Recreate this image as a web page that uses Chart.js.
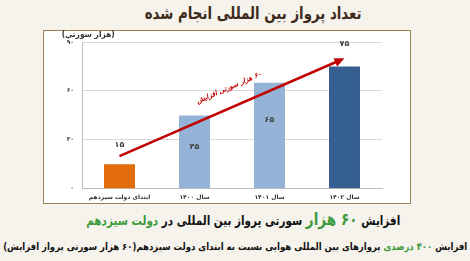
<!DOCTYPE html>
<html lang="fa">
<head>
<meta charset="utf-8">
<script src="https://cdn.jsdelivr.net/npm/chart.js@4.4.1/dist/chart.umd.min.js"></script>
<style>
  html, body { margin: 0; padding: 0; }
  body {
    width: 470px; height: 261px; overflow: hidden; position: relative;
    background: #f6f3ec; font-family: "DejaVu Sans", sans-serif;
  }
  .fit { position: absolute; white-space: nowrap; font-weight: bold; line-height: 1; }
  .title { font-size: 17px; color: #3e2b1c; }
  .frame {
    position: absolute; left: 43px; top: 30px; width: 366px; height: 172px;
    border: 1.5px solid #a0814f; background: #ffffff;
  }
  .chart-box { position: absolute; left: 44px; top: 30px; width: 368px; height: 179px; }
  .unit { font-size: 8px; color: #333; }
  .line1 { font-size: 13px; color: #111; }
  .line1 .big { font-size: 17px; color: #3d9a3d; }
  .line2 { font-size: 10px; color: #111; }
  .green { color: #3d9a3d; }
</style>
</head>
<body>
<div class="fit title" dir="rtl" data-cx="253" data-cy="13" data-w="217">تعداد پرواز بین المللی انجام شده</div>
<div class="frame"></div>
<div class="chart-box"><canvas id="chart"></canvas></div>
<div class="fit unit" dir="rtl" data-cx="88" data-cy="35" data-w="53">(هزار سورتي)</div>
<div class="fit line1" dir="rtl" data-cx="243" data-cy="219" data-w="314">افزایش <span class="big">۶۰ هزار</span>  سورتی پرواز بین المللی در <span class="green">دولت سیزدهم</span></div>
<div class="fit line2" dir="rtl" data-cx="235" data-cy="247" data-w="464">افزایش <span class="green">۴۰۰ درصدی</span> پروازهای بین المللی هوایی نسبت به ابتدای دولت سیزدهم(۶۰ هزار سورتی پرواز افزایش)</div>

<script>
// Data
const categories = ['ابتدای دولت سیزدهم', 'سال ۱۴۰۰', 'سال ۱۴۰۱', 'سال ۱۴۰۲'];
const flights = [15, 45, 65, 75];
const valueLabels = ['۱۵', '۴۵', '۶۵', '۷۵'];
const yTicks = [0, 30, 60, 90];
const yTickLabels = ['۰', '۳۰', '۶۰', '۹۰'];
const arrowFrom = [0, 20];
const arrowTo = [3, 80];
const arrowText = '۶۰ هزار سورتی افزایش';

const barColors = ['#e36c0a', '#95b3d7', '#95b3d7', '#365f91'];
// vertical offset of each value label from the bar top (px)
const labelOffsets = [-19, 32, 37, -23];

const font = 'DejaVu Sans';

// squeeze the html texts to the widths seen in the picture
document.querySelectorAll('.fit').forEach(el => {
    const w = el.getBoundingClientRect().width;
    const h = el.getBoundingClientRect().height;
    const s = (+el.dataset.w) / w;
    el.style.left = (+el.dataset.cx - w / 2) + 'px';
    el.style.top = (+el.dataset.cy - h / 2) + 'px';
    el.style.transform = 'scaleX(' + s + ')';
});

// Value labels on bars
const valueLabelPlugin = {
    id: 'valueLabels',
    afterDatasetsDraw(chart) {
        const ctx = chart.ctx;
        const meta = chart.getDatasetMeta(0);
        ctx.save();
        ctx.font = 'bold 8px "' + font + '"';
        ctx.fillStyle = '#404040';
        ctx.textAlign = 'center';
        ctx.textBaseline = 'middle';
        meta.data.forEach((bar, i) => {
            ctx.fillText(valueLabels[i], bar.x, bar.y + labelOffsets[i]);
        });
        ctx.restore();
    }
};

// Red trend arrow with its label
const arrowPlugin = {
    id: 'trendArrow',
    afterDatasetsDraw(chart) {
        const { ctx, scales: { x, y } } = chart;
        const x1 = x.getPixelForValue(arrowFrom[0]);
        const y1 = y.getPixelForValue(arrowFrom[1]);
        const x2 = x.getPixelForValue(arrowTo[0]);
        const y2 = y.getPixelForValue(arrowTo[1]);
        const ang = Math.atan2(y2 - y1, x2 - x1);
        const head = 10;

        ctx.save();
        ctx.strokeStyle = '#c00000';
        ctx.fillStyle = '#c00000';
        ctx.lineWidth = 2.5;
        ctx.beginPath();
        ctx.moveTo(x1, y1);
        ctx.lineTo(x2 - head * 0.8 * Math.cos(ang), y2 - head * 0.8 * Math.sin(ang));
        ctx.stroke();
        ctx.beginPath();
        ctx.moveTo(x2, y2);
        ctx.lineTo(x2 - head * Math.cos(ang) + 4.5 * Math.sin(ang), y2 - head * Math.sin(ang) - 4.5 * Math.cos(ang));
        ctx.lineTo(x2 - head * Math.cos(ang) - 4.5 * Math.sin(ang), y2 - head * Math.sin(ang) + 4.5 * Math.cos(ang));
        ctx.closePath();
        ctx.fill();

        // label above the arrow
        const t = 0.52;
        const mx = x1 + (x2 - x1) * t + 19 * Math.sin(ang);
        const my = y1 + (y2 - y1) * t - 19 * Math.cos(ang);
        ctx.translate(mx, my);
        ctx.rotate(ang);
        ctx.font = 'italic bold 7px "' + font + '"';
        ctx.textAlign = 'center';
        ctx.textBaseline = 'middle';
        ctx.direction = 'rtl';
        ctx.fillText(arrowText, 0, 0);
        ctx.restore();
    }
};

new Chart(document.getElementById('chart'), {
    type: 'bar',
    data: {
        labels: categories,
        datasets: [{
            data: flights,
            backgroundColor: barColors,
            categoryPercentage: 1,
            barPercentage: 0.413
        }]
    },
    options: {
        responsive: true,
        maintainAspectRatio: false,
        animation: false,
        layout: { padding: { left: 0, right: 30, top: 12, bottom: 3 } },
        plugins: {
            legend: { display: false },
            tooltip: { enabled: false }
        },
        scales: {
            x: {
                grid: { display: false, drawTicks: false },
                border: { display: true, color: '#bfbfbf' },
                ticks: {
                    color: '#333',
                    font: { family: font, size: 6, weight: 'bold' },
                    padding: 5,
                    maxRotation: 0,
                    autoSkip: false
                }
            },
            y: {
                min: 0,
                max: 90,
                afterBuildTicks(s) { s.ticks = yTicks.map(v => ({ value: v })); },
                grid: { color: '#d9d9d9', drawTicks: false },
                border: { display: true, color: '#bfbfbf' },
                ticks: {
                    color: '#333',
                    font: { family: font, size: 6, weight: 'bold' },
                    padding: 8,
                    callback: (v) => yTickLabels[yTicks.indexOf(v)]
                },
                afterFit(s) { s.width = 38; }
            }
        }
    },
    plugins: [valueLabelPlugin, arrowPlugin]
});
</script>
</body>
</html>
